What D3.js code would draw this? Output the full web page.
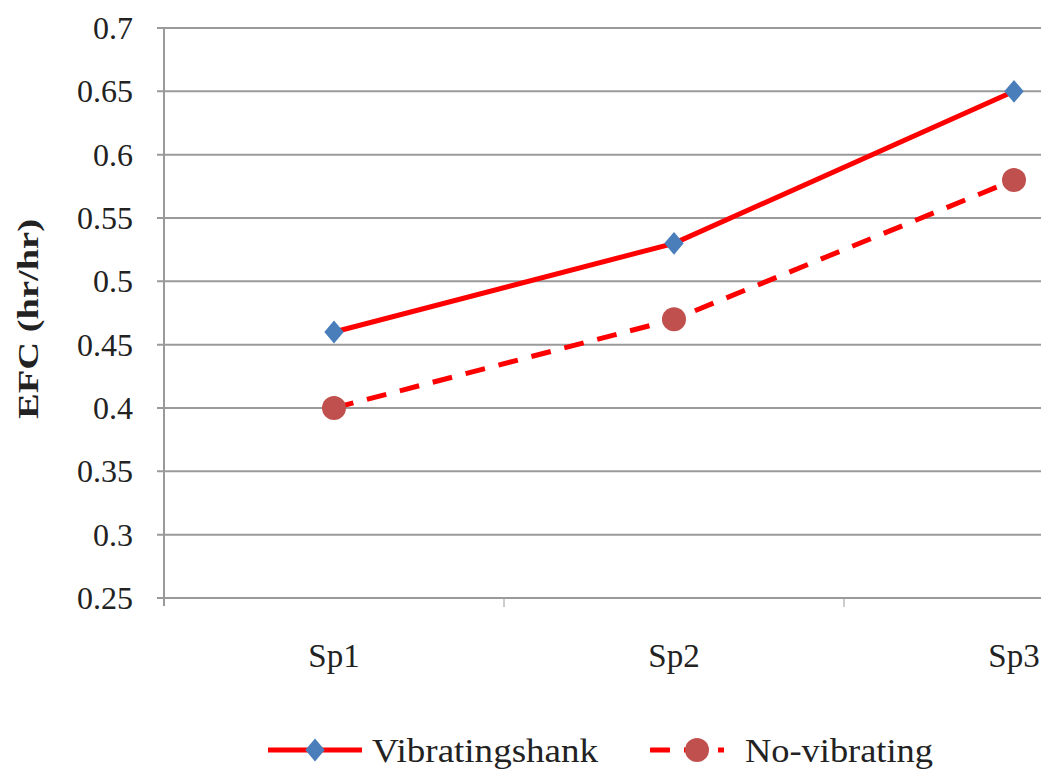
<!DOCTYPE html>
<html lang="en">
<head>
    <meta charset="UTF-8">
    <title>EFC</title>
    <script src="https://d3js.org/d3.v7.min.js"></script>
    <style>
        body { margin: 0; background: #fff; }
    </style>
</head>
<body>
<script>
    // data
    let categories = ["Sp1", "Sp2", "Sp3"];
    let vibrating = [0.46, 0.53, 0.65];
    let noVibrating = [0.40, 0.47, 0.58];
    let yTicks = [0.25, 0.3, 0.35, 0.4, 0.45, 0.5, 0.55, 0.6, 0.65, 0.7];
    let seriesNames = ["Vibratingshank", "No-vibrating"];

    let width = 1041;
    let height = 769;
    let serif = "'Liberation Serif', 'Times New Roman', Times, Tinos, 'Noto Serif', 'DejaVu Serif', FreeSerif, serif";

    let svg = d3.select("body").append("svg")
        .attr("width", width)
        .attr("height", height)
        .attr("font-family", serif);

    svg.append("rect")
        .attr("fill", "#fff")
        .attr("width", "100%")
        .attr("height", "100%");

    // plot area runs past the right edge like the original
    let x = d3.scaleBand()
        .domain(categories)
        .range([164, 1184]);

    let y = d3.scaleLinear()
        .domain([0.25, 0.7])
        .range([598, 28]);

    // gridlines
    yTicks.forEach(t => {
        svg.append("line")
            .attr("x1", 157)
            .attr("x2", width)
            .attr("y1", y(t))
            .attr("y2", y(t))
            .attr("stroke", "#9a9a9a")
            .attr("stroke-width", 2);

        svg.append("text")
            .attr("font-size", 32)
            .attr("fill", "#222")
            .attr("x", 133)
            .attr("y", y(t))
            .attr("dy", "0.34em")
            .attr("text-anchor", "end")
            .text(t);
    });

    // y axis line
    svg.append("line")
        .attr("x1", 164).attr("x2", 164)
        .attr("y1", y(0.7)).attr("y2", y(0.25) + 8)
        .attr("stroke", "#9a9a9a")
        .attr("stroke-width", 2);

    // x axis ticks between categories
    categories.forEach(c => {
        svg.append("line")
            .attr("x1", x(c) + x.bandwidth()).attr("x2", x(c) + x.bandwidth())
            .attr("y1", y(0.25)).attr("y2", y(0.25) + 9)
            .attr("stroke", "#9a9a9a")
            .attr("stroke-width", 1);

        svg.append("text")
            .attr("font-size", 33)
            .attr("fill", "#222")
            .attr("x", x(c) + x.bandwidth() / 2)
            .attr("y", 667)
            .attr("text-anchor", "middle")
            .text(c);
    });

    // y axis title
    svg.append("text")
        .attr("font-size", 29)
        .attr("font-weight", "bold")
        .attr("fill", "#222")
        .attr("transform", "translate(38, 319) rotate(-90)")
        .attr("text-anchor", "middle")
        .attr("textLength", 200)
        .attr("lengthAdjust", "spacingAndGlyphs")
        .text("EFC (hr/hr)");

    let cx = c => x(c) + x.bandwidth() / 2;

    let line = d3.line()
        .x((d, i) => cx(categories[i]))
        .y(d => y(d));

    // no-vibrating series
    svg.append("path")
        .datum(noVibrating)
        .attr("d", line)
        .attr("fill", "none")
        .attr("stroke", "#ff0000")
        .attr("stroke-width", 5)
        .attr("stroke-dasharray", "20,14");

    svg.selectAll(".nv")
        .data(noVibrating)
        .enter().append("circle")
        .attr("cx", (d, i) => cx(categories[i]))
        .attr("cy", d => y(d))
        .attr("r", 12)
        .attr("fill", "#c0504d");

    // vibrating series
    svg.append("path")
        .datum(vibrating)
        .attr("d", line)
        .attr("fill", "none")
        .attr("stroke", "#ff0000")
        .attr("stroke-width", 5);

    // wider diamond than d3.symbolDiamond
    let wideDiamond = {
        draw(context, size) {
            let h = Math.sqrt(size) / 2;
            let w = h * 0.85;
            context.moveTo(0, -h);
            context.lineTo(w, 0);
            context.lineTo(0, h);
            context.lineTo(-w, 0);
            context.closePath();
        }
    };
    let diamond = d3.symbol().type(wideDiamond).size(520);

    svg.selectAll(".vb")
        .data(vibrating)
        .enter().append("path")
        .attr("d", diamond)
        .attr("transform", (d, i) => "translate(" + cx(categories[i]) + "," + y(d) + ")")
        .attr("fill", "#4a7ebb");

    // legend
    let ly = 750;
    svg.append("line")
        .attr("x1", 268).attr("x2", 362)
        .attr("y1", ly).attr("y2", ly)
        .attr("stroke", "#ff0000").attr("stroke-width", 5);
    svg.append("path")
        .attr("d", diamond)
        .attr("transform", "translate(315," + ly + ")")
        .attr("fill", "#4a7ebb");
    svg.append("text")
        .attr("font-size", 34)
        .attr("fill", "#222")
        .attr("x", 372).attr("y", ly)
        .attr("dy", "0.34em")
        .attr("textLength", 226)
        .attr("lengthAdjust", "spacingAndGlyphs")
        .text(seriesNames[0]);

    svg.append("line")
        .attr("x1", 650).attr("x2", 724)
        .attr("y1", ly).attr("y2", ly)
        .attr("stroke", "#ff0000").attr("stroke-width", 5)
        .attr("stroke-dasharray", "20,14");
    svg.append("circle")
        .attr("cx", 697).attr("cy", ly)
        .attr("r", 12)
        .attr("fill", "#c0504d");
    svg.append("text")
        .attr("font-size", 34)
        .attr("fill", "#222")
        .attr("x", 745).attr("y", ly)
        .attr("dy", "0.34em")
        .attr("textLength", 188)
        .attr("lengthAdjust", "spacingAndGlyphs")
        .text(seriesNames[1]);
</script>
</body>
</html>
